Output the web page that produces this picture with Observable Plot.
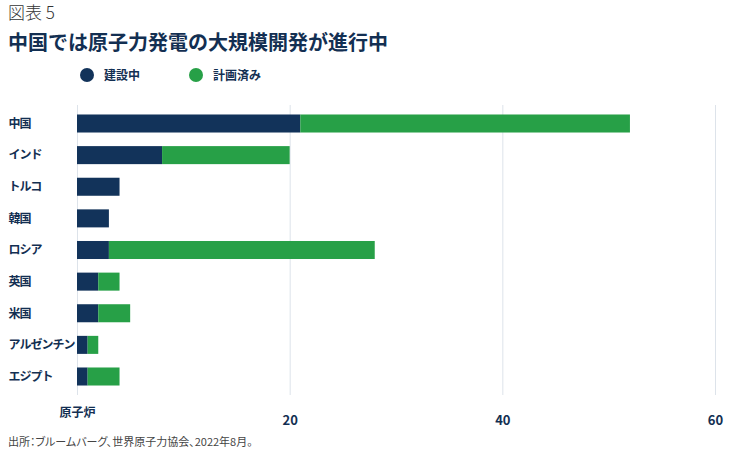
<!DOCTYPE html>
<html><head><meta charset="utf-8">
<script src="https://cdn.jsdelivr.net/npm/d3@7"></script>
<script src="https://cdn.jsdelivr.net/npm/@observablehq/plot@0.6"></script>
<style>
body{margin:0;background:#fff;font-family:"Noto Sans CJK JP","Noto Sans",sans-serif;width:729px;height:451px;overflow:hidden;}
#fig{position:absolute;left:8px;top:1px;font-size:17px;font-weight:300;color:#333;line-height:22px;}
#title{position:absolute;left:8px;top:30px;font-size:20px;font-weight:700;color:#132f52;line-height:24px;}
#legend{position:absolute;left:80px;top:66px;font-size:12px;font-weight:700;color:#132f52;display:flex;align-items:center;line-height:18px;}
.sw{display:inline-block;width:14px;height:14px;border-radius:50%;margin-right:10px;}
.item{display:flex;align-items:center;margin-right:49px;}
#chart{position:absolute;left:0;top:95px;}
#caption{position:absolute;left:8px;top:433px;font-size:11px;color:#444;line-height:16px;font-feature-settings:"palt";}
</style></head><body>
<div id="fig">図表 5</div>
<div id="title">中国では原子力発電の大規模開発が進行中</div>
<div id="legend"></div>
<div id="chart"></div>
<div id="caption">出所：ブルームバーグ、世界原子力協会、2022年8月。</div>
<script>
const countries = ["中国","インド","トルコ","韓国","ロシア","英国","米国","アルゼンチン","エジプト"];
const underConstruction = [21, 8, 4, 3, 3, 2, 2, 1, 1];
const planned = [31, 12, 0, 0, 25, 2, 3, 1, 3];
const seriesNames = ["建設中", "計画済み"];
const seriesColors = ["#12335a", "#27a047"];
const xTicks = [20, 40, 60];
const xUnitLabel = "原子炉";

const data = [];
countries.forEach((c, i) => {
  data.push({country: c, series: seriesNames[0], value: underConstruction[i]});
  data.push({country: c, series: seriesNames[1], value: planned[i]});
});

const legend = document.getElementById("legend");
seriesNames.forEach((s, i) => {
  const it = document.createElement("div");
  it.className = "item";
  it.innerHTML = `<span class="sw" style="background:${seriesColors[i]}"></span><span>${s}</span>`;
  legend.appendChild(it);
});

const chart = Plot.plot({
  width: 729,
  height: 335,
  marginLeft: 77,
  marginRight: 14,
  marginTop: 10,
  marginBottom: 35,
  style: {fontFamily: '"Noto Sans CJK JP","Noto Sans",sans-serif', color: "#132f52", background: "#fff"},
  x: {domain: [0, 60]},
  y: {domain: countries, paddingInner: 0.43, paddingOuter: 0.3, round: false},
  color: {domain: seriesNames, range: seriesColors},
  marks: [
    Plot.gridX([0, ...xTicks], {stroke: "#dde3ea", strokeOpacity: 1}),
    Plot.barX(data, {x: "value", y: "country", fill: "series"}),
    Plot.axisX({ticks: xTicks, tickSize: 0, tickPadding: 20, fontSize: 13, fontWeight: 700, fill: "#132f52", label: null}),
    Plot.text([xUnitLabel], {x: () => 0, text: d => d, frameAnchor: "bottom", dy: 21, fontSize: 12, fontWeight: 700, fill: "#132f52"}),
    Plot.axisY({tickSize: 0, tickPadding: 0, textAnchor: "start", dx: -69, fontSize: 12, fontWeight: 700, fill: "#132f52", label: null})
  ]
});
chart.querySelectorAll('[aria-label="y-axis tick label"] text').forEach(t => { t.style.letterSpacing = "-1px"; });
document.getElementById("chart").appendChild(chart);
</script>
</body></html>
